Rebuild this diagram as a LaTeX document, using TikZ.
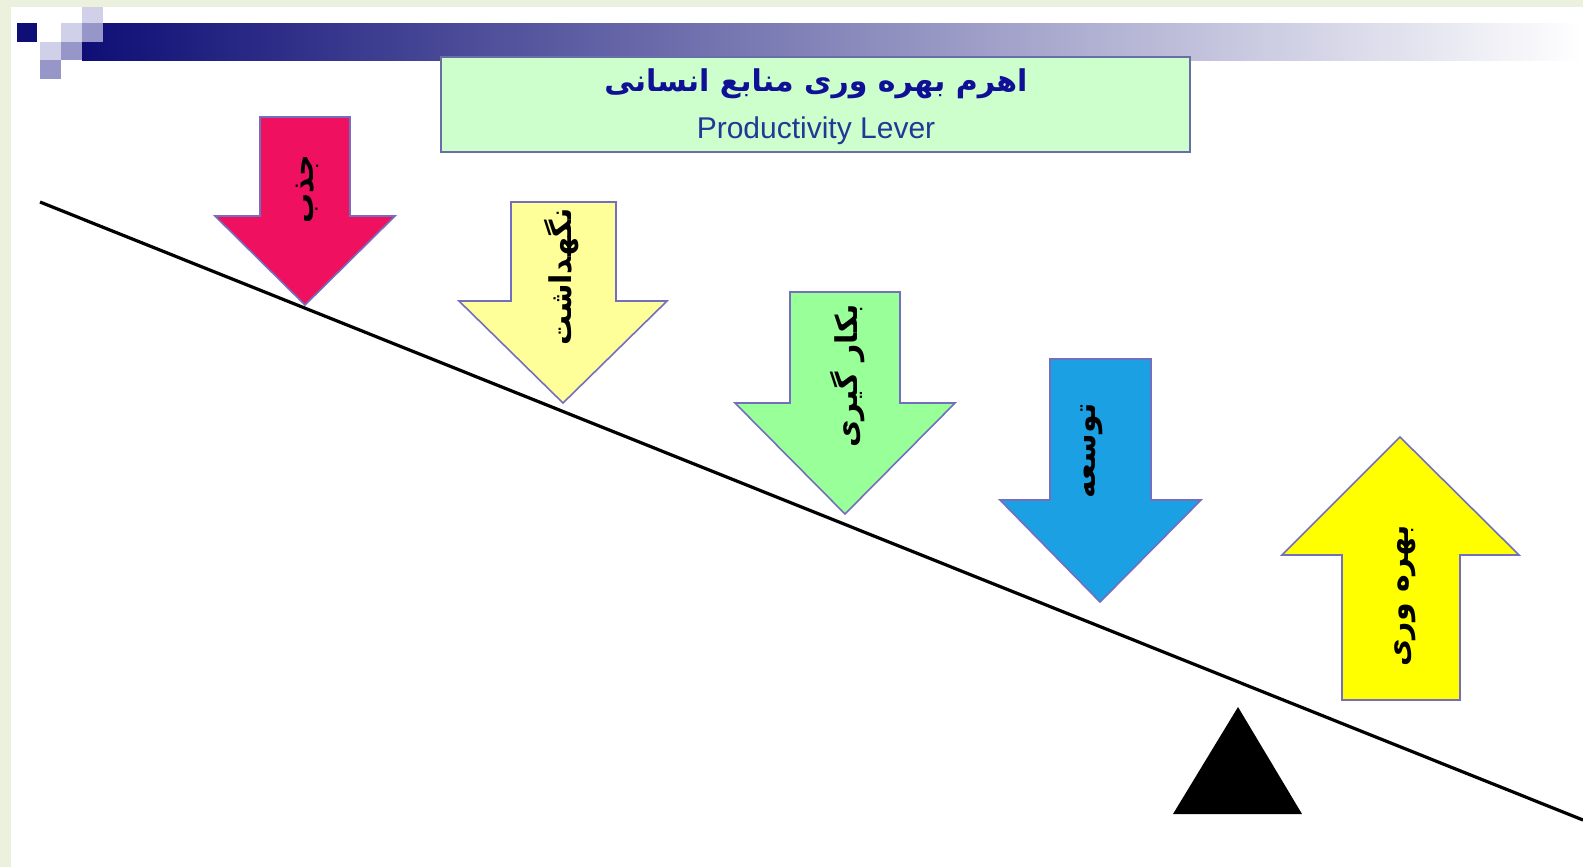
\documentclass[tikz,border=0pt]{standalone}
\usepackage{fontspec}
\setsansfont{Liberation Sans}
\newfontfamily\farsi[Script=Arabic]{DejaVu Sans}
\TeXXeTstate=1
\usepackage{xcolor}
\usepackage{tikz}
\usetikzlibrary{positioning}
\definecolor{slidebg}{RGB}{236,241,222}
\definecolor{barnavy}{RGB}{14,14,118}
\definecolor{barmid}{RGB}{170,170,212}
\definecolor{sqlight}{RGB}{208,208,232}
\definecolor{sqmid}{RGB}{150,150,200}
\definecolor{titlefill}{RGB}{204,255,204}
\definecolor{titleline}{RGB}{105,110,165}
\definecolor{titleblue}{RGB}{16,16,150}
\definecolor{enblue}{RGB}{35,55,150}
\definecolor{arrline}{RGB}{115,110,190}
\definecolor{jazbc}{RGB}{240,16,96}
\definecolor{negahc}{RGB}{255,255,153}
\definecolor{bekarc}{RGB}{153,255,153}
\definecolor{tosec}{RGB}{28,160,228}
\definecolor{bahrec}{RGB}{255,255,0}
\tikzset{
  titlebox/.style={draw=titleline, line width=1pt, fill=titlefill,
                   minimum width=374.5pt, minimum height=47.5pt, inner sep=0pt},
  titlefa/.style={font=\farsi\bfseries\fontsize{15}{18}\selectfont, text=titleblue, inner sep=0pt},
  titleen/.style={font=\sffamily\fontsize{15}{18}\selectfont, text=enblue, inner sep=0pt},
  arrowbody/.style={draw=arrline, line width=0.8pt, line join=miter},
  arrowtext/.style={font=\farsi\bfseries\fontsize{15}{18}\selectfont, rotate=90, inner sep=0pt},
  lever/.style={line width=1.6pt, black},
  fulcrum/.style={fill=black}
}

\begin{document}
\begin{tikzpicture}[x=0.5pt, y=-0.5pt]
\useasboundingbox (0,0) rectangle (1583,867);
% slide background and header bar
\fill[slidebg] (0,0) rectangle (1583,867);
\fill[white] (11,7) rectangle (1583,867);
\shade[left color=barnavy, middle color=barmid, right color=white] (82,23) rectangle (1583,60);
\fill[barnavy] (17,23) rectangle (37,42);
\fill[sqlight] (61,23) rectangle (82,42);
\fill[sqlight] (82,7) rectangle (103,23);
\fill[sqmid] (82,23) rectangle (103,42);
\fill[sqlight] (40,42) rectangle (61,60);
\fill[sqmid] (61,42) rectangle (82,60);
\fill[sqmid] (40,60) rectangle (61,79);
% title
\node[titlebox] (title) at (815.5,104.5) {};
\node[titlefa] (titlefa) at (816,84) {\beginR اهرم بهره وری منابع انسانی\endR};
\node[titleen] (titleen) at (816,131) {Productivity Lever};
% lever and fulcrum
\draw[lever] (40,202) -- (1583,820);
\fill[fulcrum] (1238,707) -- (1302,814) -- (1173,814) -- cycle;
% arrows
\draw[arrowbody, fill=jazbc] (260,117) -- (350,117) -- (350,216) -- (395,216) -- (305,305) -- (215,216) -- (260,216) -- cycle;
\node[arrowtext] (jazb) at (307,189) {\beginR جذب\endR};
\draw[arrowbody, fill=negahc] (511,202) -- (616,202) -- (616,301) -- (667,301) -- (563,403) -- (459,301) -- (511,301) -- cycle;
\node[arrowtext] (negah) at (562,277) {\beginR نگهداشت\endR};
\draw[arrowbody, fill=bekarc] (790,292) -- (900,292) -- (900,403) -- (955,403) -- (845,514) -- (735,403) -- (790,403) -- cycle;
\node[arrowtext] (bekar) at (848,376) {\beginR بکار گیری\endR};
\draw[arrowbody, fill=tosec] (1050,359) -- (1151,359) -- (1151,500) -- (1201,500) -- (1100,602) -- (1000,500) -- (1050,500) -- cycle;
\node[arrowtext] (tose) at (1092,451) {\beginR توسعه\endR};
\draw[arrowbody, fill=bahrec] (1342,700) -- (1460,700) -- (1460,555) -- (1519,555) -- (1400,437) -- (1282,555) -- (1342,555) -- cycle;
\node[arrowtext] (bahre) at (1405,596) {\beginR بهره وری\endR};
\end{tikzpicture}
\end{document}
